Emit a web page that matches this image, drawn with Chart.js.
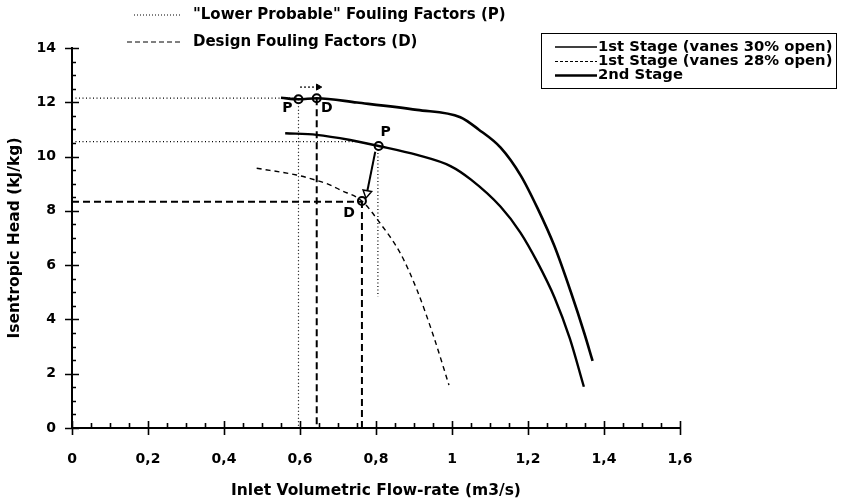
<!DOCTYPE html>
<html>
<head>
<meta charset="utf-8">
<script src="https://cdn.jsdelivr.net/npm/chart.js@4.4.0/dist/chart.umd.min.js"></script>
<style>
  html, body { margin: 0; padding: 0; background: #fff; }
  #wrap { width: 849px; height: 504px; }
</style>
</head>
<body>
<div id="wrap"><canvas id="chartHead"></canvas></div>
<script>
// tick labels
const xTicks = [0, 0.2, 0.4, 0.6, 0.8, 1, 1.2, 1.4, 1.6];
const yTicks = [0, 2, 4, 6, 8, 10, 12, 14];

// 2nd Stage (upper solid curve)
const flow2nd = [0.55, 0.596, 0.644, 0.75, 0.908, 1.022, 1.07, 1.128, 1.181, 1.225, 1.269, 1.313, 1.348, 1.37];
const head2nd = [12.17, 12.11, 12.15, 11.99, 11.72, 11.45, 11.0, 10.33, 9.3, 8.1, 6.72, 5.0, 3.5, 2.47];

// 1st Stage, vanes 30% open (lower solid curve)
const flow30 = [0.561, 0.644, 0.732, 0.807, 0.908, 0.996, 1.05, 1.128, 1.18, 1.225, 1.27, 1.31, 1.347];
const head30 = [10.86, 10.80, 10.61, 10.39, 10.06, 9.65, 9.15, 8.15, 7.2, 6.1, 4.8, 3.3, 1.52];

// 1st Stage, vanes 28% open (dashed curve)
const flow28 = [0.486, 0.591, 0.64, 0.68, 0.706, 0.763, 0.811, 0.864, 0.908, 0.952, 0.992];
const head28 = [9.57, 9.32, 9.14, 8.95, 8.77, 8.36, 7.54, 6.44, 5.08, 3.36, 1.58];

// operating points  (P = lower probable, D = design)
const pFlow = [0.596, 0.807];
const pHead = [12.11, 10.39];
const dFlow = [0.644, 0.763];
const dHead = [12.15, 8.36];

// guide lines to the axes
const guideP = [
    [[0, 12.15], [0.596, 12.15]],
    [[0.596, 12.11], [0.596, 0]],
    [[0, 10.55], [0.75, 10.55]],
    [[0.805, 10.39], [0.805, 4.84]]
];
const guideD = [
    [[0.644, 12.15], [0.644, 0]],
    [[0, 8.34], [0.763, 8.34]],
    [[0.763, 8.36], [0.763, 0]]
];

// shift arrows P -> D
const arrowTop = [[0.6, 12.56], [0.648, 12.56]];
const arrowLow = [[0.798, 10.18], [0.776, 8.65]];

const FONT = '"DejaVu Sans", Verdana, sans-serif';
const zip = (xs, ys) => xs.map((x, i) => ({ x: x, y: ys[i] }));
const pts = (arr) => arr.map(p => ({ x: p[0], y: p[1] }));

const datasets = [];

guideP.forEach(seg => datasets.push({
    data: pts(seg), borderColor: '#000', borderWidth: 1.2, borderDash: [1, 2.5],
    pointRadius: 0, fill: false
}));
guideD.forEach(seg => datasets.push({
    data: pts(seg), borderColor: '#000', borderWidth: 2, borderDash: [7, 4],
    pointRadius: 0, fill: false
}));

datasets.push({
    label: '2nd Stage', data: zip(flow2nd, head2nd),
    borderColor: '#000', borderWidth: 2.6, pointRadius: 0, cubicInterpolationMode: 'monotone'
});
datasets.push({
    label: '1st Stage (vanes 30% open)', data: zip(flow30, head30),
    borderColor: '#000', borderWidth: 2.4, pointRadius: 0, cubicInterpolationMode: 'monotone'
});
datasets.push({
    label: '1st Stage (vanes 28% open)', data: zip(flow28, head28),
    borderColor: '#000', borderWidth: 1.4, borderDash: [5, 4], pointRadius: 0, cubicInterpolationMode: 'monotone'
});

// arrows, head drawn as rotated triangle on the last point
datasets.push({
    data: pts(arrowTop), borderColor: '#000', borderWidth: 1.2, borderDash: [2, 2],
    pointRadius: [0, 3.5], pointStyle: 'triangle', pointRotation: 90,
    pointBackgroundColor: '#000', pointBorderColor: '#000', pointBorderWidth: 1
});
datasets.push({
    data: pts(arrowLow), borderColor: '#000', borderWidth: 2,
    pointRadius: [0, 5], pointStyle: 'triangle', pointRotation: 191,
    pointBackgroundColor: '#fff', pointBorderColor: '#000', pointBorderWidth: 1.5
});

// operating point circles
datasets.push({
    data: zip(pFlow.concat(dFlow), pHead.concat(dHead)), showLine: false,
    pointRadius: 4, pointBorderWidth: 2, pointBorderColor: '#000', pointBackgroundColor: '#fff'
});

// tick marks crossing the axes
const tickMarks = {
    id: 'tickMarks',
    afterDraw(chart) {
        const ctx = chart.ctx;
        const xs = chart.scales.x, ys = chart.scales.y;
        const x0 = xs.getPixelForValue(0), y0 = ys.getPixelForValue(0);
        ctx.save();
        ctx.strokeStyle = '#000';
        ctx.lineWidth = 1.6;
        ctx.beginPath();
        for (let v = 0; v <= 1.6001; v += 0.05) {
            const px = Math.round(xs.getPixelForValue(v)) + 0.5;
            const major = Math.abs(v / 0.2 - Math.round(v / 0.2)) < 1e-6;
            ctx.moveTo(px, y0 - (major ? 7 : 5));
            ctx.lineTo(px, y0 + (major ? 7 : 0));
        }
        for (let v = 0; v <= 14.001; v += 0.5) {
            const py = Math.round(ys.getPixelForValue(v)) + 0.5;
            const major = Math.abs(v / 2 - Math.round(v / 2)) < 1e-6;
            ctx.moveTo(x0 - (major ? 7 : 0), py);
            ctx.lineTo(x0 + (major ? 7 : 4), py);
        }
        ctx.stroke();
        ctx.restore();
    }
};

// P / D letters beside the circles, and the two legends
const notes = {
    id: 'notes',
    afterDraw(chart) {
        const ctx = chart.ctx;
        const xs = chart.scales.x, ys = chart.scales.y;
        ctx.save();
        ctx.fillStyle = '#000';
        ctx.font = 'bold 14px ' + FONT;
        ctx.textAlign = 'center';
        ctx.textBaseline = 'middle';
        const lab = (t, x, y, dx, dy) => ctx.fillText(t, xs.getPixelForValue(x) + dx, ys.getPixelForValue(y) + dy);
        lab('P', pFlow[0], pHead[0], -11, 9);
        lab('D', dFlow[0], dHead[0], 10, 10);
        lab('P', pFlow[1], pHead[1], 7, -14);
        lab('D', dFlow[1], dHead[1], -13, 12);

        // top-left legend
        ctx.textAlign = 'left';
        ctx.font = 'bold 15px ' + FONT;
        ctx.strokeStyle = '#000';
        ctx.lineWidth = 1;
        ctx.setLineDash([1, 2]);
        ctx.beginPath(); ctx.moveTo(134, 15); ctx.lineTo(182, 15); ctx.stroke();
        ctx.setLineDash([5, 3]);
        ctx.beginPath(); ctx.moveTo(127, 42); ctx.lineTo(181, 42); ctx.stroke();
        ctx.fillText('"Lower Probable" Fouling Factors (P)', 193, 15);
        ctx.fillText('Design Fouling Factors (D)', 193, 42);

        // boxed legend
        ctx.setLineDash([]);
        ctx.lineWidth = 1;
        ctx.strokeRect(541.5, 33.5, 295, 55);
        const rows = [
            ['1st Stage (vanes 30% open)', [], 1.6, 47],
            ['1st Stage (vanes 28% open)', [3, 2], 1, 61.5],
            ['2nd Stage', [], 2.4, 75.5]
        ];
        ctx.font = 'bold 14.8px ' + FONT;
        rows.forEach(r => {
            ctx.setLineDash(r[1]);
            ctx.lineWidth = r[2];
            ctx.beginPath(); ctx.moveTo(555, r[3]); ctx.lineTo(597, r[3]); ctx.stroke();
            ctx.fillText(r[0], 598, r[3]);
        });
        ctx.restore();
    }
};

new Chart(document.getElementById('chartHead'), {
    type: 'line',
    data: { datasets: datasets },
    options: {
        responsive: true,
        maintainAspectRatio: false,
        animation: false,
        layout: { padding: { left: 0, right: 169, top: 48, bottom: 0 } },
        plugins: { legend: { display: false }, tooltip: { enabled: false } },
        elements: { line: { tension: 0 } },
        scales: {
            x: {
                type: 'linear', min: 0, max: 1.6,
                afterBuildTicks: s => { s.ticks = xTicks.map(v => ({ value: v })); },
                afterFit: s => { s.height = 76; },
                grid: { display: false, drawTicks: false },
                border: { display: true, color: '#000', width: 2 },
                ticks: {
                    color: '#000', padding: 23, maxRotation: 0, autoSkip: false,
                    font: { family: FONT, size: 14, weight: 'bold' },
                    callback: v => String(Math.round(v * 10) / 10).replace('.', ',')
                },
                title: {
                    display: true, text: 'Inlet Volumetric Flow-rate (m3/s)', color: '#000',
                    font: { family: FONT, size: 15.5, weight: 'bold' }, padding: { top: 0, bottom: 4 }
                }
            },
            y: {
                type: 'linear', min: 0, max: 14,
                afterBuildTicks: s => { s.ticks = yTicks.map(v => ({ value: v })); },
                afterFit: s => { s.width = 72; },
                grid: { display: false, drawTicks: false },
                border: { display: true, color: '#000', width: 2 },
                ticks: {
                    color: '#000', padding: 16,
                    font: { family: FONT, size: 14, weight: 'bold' }
                },
                title: {
                    display: true, text: 'Isentropic Head (kJ/kg)', color: '#000',
                    font: { family: FONT, size: 15.5, weight: 'bold' }, padding: { top: 6, bottom: 0 }
                }
            }
        }
    },
    plugins: [tickMarks, notes]
});
</script>
</body>
</html>
